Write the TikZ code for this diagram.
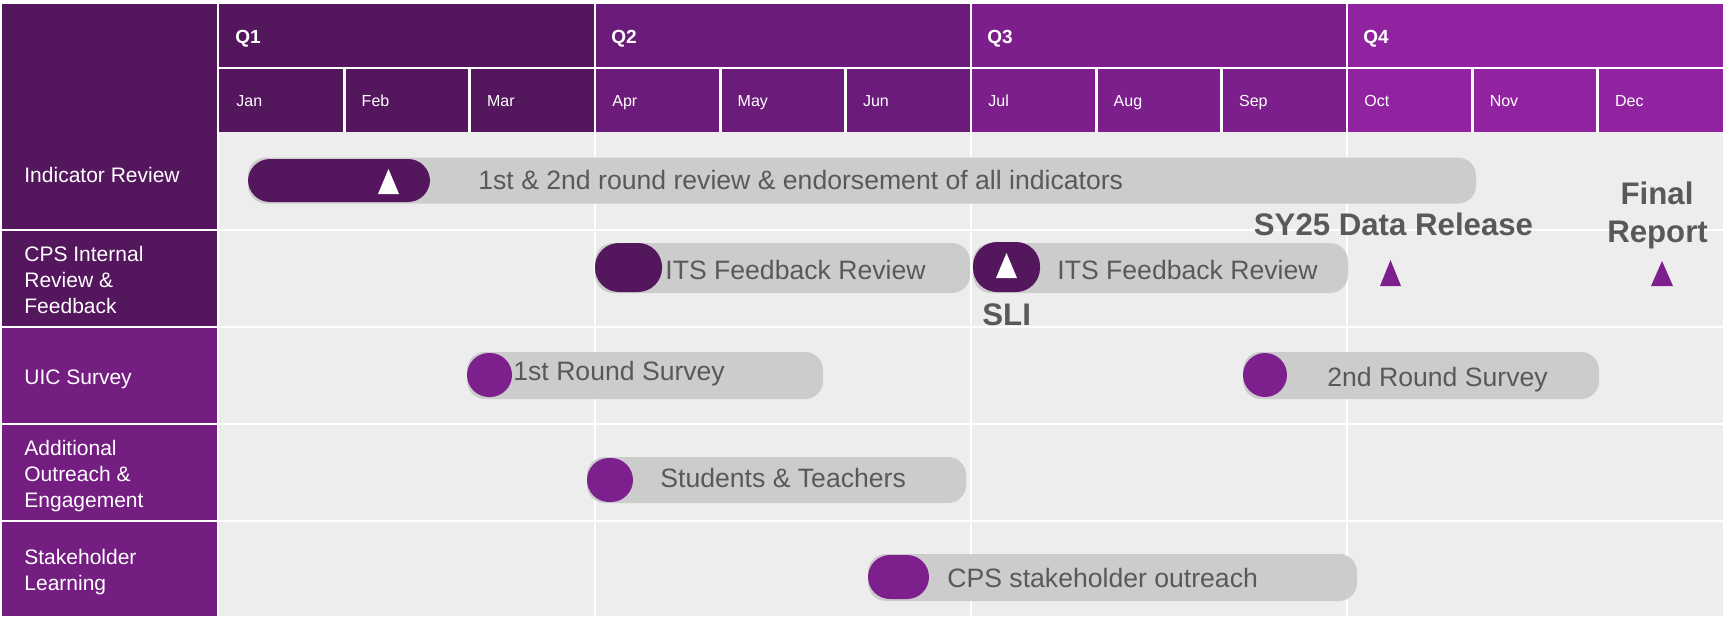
\documentclass[tikz,border=0pt]{standalone}
\usepackage{fontspec}
\setmainfont{Liberation Sans}
\definecolor{qone}{HTML}{54165D}
\definecolor{qtwo}{HTML}{6B1C7A}
\definecolor{qthree}{HTML}{7C1F8C}
\definecolor{qfour}{HTML}{9123A1}
\definecolor{lblpurple}{HTML}{741E82}
\definecolor{mspurple}{HTML}{7E1F8E}
\definecolor{bgrey}{HTML}{EDEDED}
\definecolor{bargrey}{HTML}{CCCCCC}
\definecolor{txtgrey}{HTML}{595959}
\tikzset{
  lbl/.style={text=white, font=\fontsize{10.5}{12}\selectfont, anchor=base west, inner sep=0pt},
  qlbl/.style={text=white, font=\bfseries\fontsize{9.5}{11}\selectfont, anchor=base west, inner sep=0pt},
  mlbl/.style={text=white, font=\fontsize{8}{10}\selectfont, anchor=base west, inner sep=0pt},
  bartxt/.style={text=txtgrey, font=\fontsize{13.3}{16}\selectfont, anchor=base west, inner sep=0pt},
  mstxt/.style={text=txtgrey, font=\bfseries\fontsize{15.6}{19}\selectfont, anchor=base, inner sep=0pt},
  greybar/.style={fill=bargrey, rounded corners=9pt},
  pillbar/.style={rounded corners=11pt},
  sepline/.style={white, line width=1.25pt}
}
\begin{document}
\begin{tikzpicture}[x=0.5pt,y=-0.5pt]
\useasboundingbox (0,0) rectangle (1729,616);
\fill[white] (0,0) rectangle (1729,616);
% label column
\fill[qone] (2,4) rectangle (217,229);
\fill[qone] (2,231) rectangle (217,326);
\fill[lblpurple] (2,328) rectangle (217,423);
\fill[lblpurple] (2,425) rectangle (217,520);
\fill[lblpurple] (2,522) rectangle (217,616);
% header
\foreach \q/\c in {0/qone,1/qtwo,2/qthree,3/qfour}
  \fill[\c] ({219+\q*376},4) rectangle ({219+(\q+1)*376},132);
% data area
\fill[bgrey] (219,132) rectangle (1723,616);
\draw[sepline] (219,68) -- (1723,68);
\foreach \k in {1,2,4,5,7,8,10,11}
  \draw[sepline] ({219+\k*125.333},68) -- ({219+\k*125.333},132);
\foreach \k in {3,6,9}
  \draw[sepline] ({219+\k*125.333},4) -- ({219+\k*125.333},616);
\foreach \yy in {230,327,424,521}
  \draw[sepline] (219,\yy) -- (1723,\yy);
% header labels
\node[qlbl] (q1) at (235,43) {Q1};
\node[qlbl] (q2) at (611,43) {Q2};
\node[qlbl] (q3) at (987,43) {Q3};
\node[qlbl] (q4) at (1363,43) {Q4};
\foreach \m [count=\i from 0] in {Jan,Feb,Mar,Apr,May,Jun,Jul,Aug,Sep,Oct,Nov,Dec}
  \node[mlbl] (m\i) at ({236+\i*125.333},106) {\m};
% row labels
\node[lbl] (r1) at (24,182) {Indicator Review};
\node[lbl] (r2a) at (24,261) {CPS Internal};
\node[lbl] (r2b) at (24,287) {Review \&};
\node[lbl] (r2c) at (24,313) {Feedback};
\node[lbl] (r3) at (24,384) {UIC Survey};
\node[lbl] (r4a) at (24,455) {Additional};
\node[lbl] (r4b) at (24,481) {Outreach \&};
\node[lbl] (r4c) at (24,507) {Engagement};
\node[lbl] (r5a) at (24,564) {Stakeholder};
\node[lbl] (r5b) at (24,590) {Learning};
% row 1
\fill[greybar] (248,157.5) rectangle (1476,203.5);
\fill[qone, pillbar] (248,159) rectangle (430,202);
\fill[white] (378,194) -- (399,194) -- (388.5,169) -- cycle;
\node[bartxt] (t1) at (478,189) {1st \& 2nd round review \& endorsement of all indicators};
% row 2
\fill[greybar] (595,243) rectangle (970,293);
\fill[qone, pillbar, rounded corners=12pt] (595,243) rectangle (662,292);
\node[bartxt] (t2a) at (665,279) {ITS Feedback Review};
\fill[greybar] (973,243) rectangle (1348,293);
\fill[qone, pillbar, rounded corners=12pt] (973,242) rectangle (1040,292);
\fill[white] (996,278) -- (1017,278) -- (1006.5,253) -- cycle;
\node[bartxt] (t2b) at (1057,279) {ITS Feedback Review};
\node[mstxt, anchor=base west] (sli) at (982,325) {SLI};
% milestones
\node[mstxt] (sy) at (1393.5,235) {SY25 Data Release};
\fill[mspurple] (1380,286) -- (1401,286) -- (1390.5,260) -- cycle;
\node[mstxt] (fin1) at (1657,204) {Final};
\node[mstxt] (fin2) at (1657.5,242) {Report};
\fill[mspurple] (1651,286) -- (1673,286) -- (1662,261) -- cycle;
% row 3
\fill[greybar] (467,352) rectangle (823,399);
\fill[mspurple, rounded corners=11pt] (467,353) rectangle (512,397);
\node[bartxt] (t3a) at (513,380) {1st Round Survey};
\fill[greybar] (1243,352) rectangle (1599,399);
\fill[mspurple, rounded corners=11pt] (1243,353) rectangle (1287,397);
\node[bartxt] (t3b) at (1327,386) {2nd Round Survey};
% row 4
\fill[greybar] (587,457) rectangle (966,503);
\fill[mspurple, rounded corners=11pt] (587,458) rectangle (633,502);
\node[bartxt] (t4) at (660,487) {Students \& Teachers};
% row 5
\fill[greybar] (868,554) rectangle (1357,601);
\fill[mspurple, rounded corners=11pt] (868,555) rectangle (929,599);
\node[bartxt] (t5) at (947,587) {CPS stakeholder outreach};
\end{tikzpicture}
\end{document}
